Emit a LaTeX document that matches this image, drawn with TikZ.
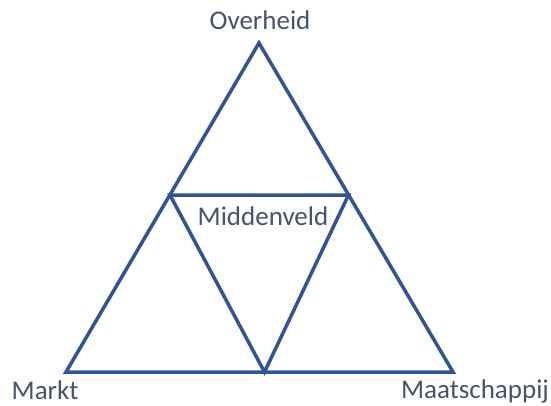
\documentclass[tikz,border=0pt]{standalone}
\usepackage{fontspec}
\setmainfont{Carlito}
\begin{document}
\begin{tikzpicture}[x=1pt,y=-1pt,
  edge/.style={draw=linecol, line width=3.5pt, line join=miter},
  label/.style={text=textcol, font=\fontsize{27}{31}\selectfont, inner sep=0pt, anchor=base}]
\definecolor{linecol}{HTML}{2F5597}
\definecolor{textcol}{HTML}{44546A}
\useasboundingbox (0,0) rectangle (551,405);
% outer triangle
\coordinate (top) at (259,43);
\coordinate (bl) at (66,372);
\coordinate (br) at (453,372);
% inner triangle
\coordinate (il) at (170,195);
\coordinate (ir) at (348.5,195);
\coordinate (ib) at (264.5,372);
\draw[edge] (top) -- (bl) -- (br) -- cycle;
\draw[edge] (il) -- (ir) -- (ib) -- cycle;
% labels
\node[label] (overheid) at (260,29) {Overheid};
\node[label] (middenveld) at (263,225) {Middenveld};
\node[label] (markt) at (45,399) {Markt};
\node[label] (maatschappij) at (475,398) {Maatschappij};
\end{tikzpicture}
\end{document}
